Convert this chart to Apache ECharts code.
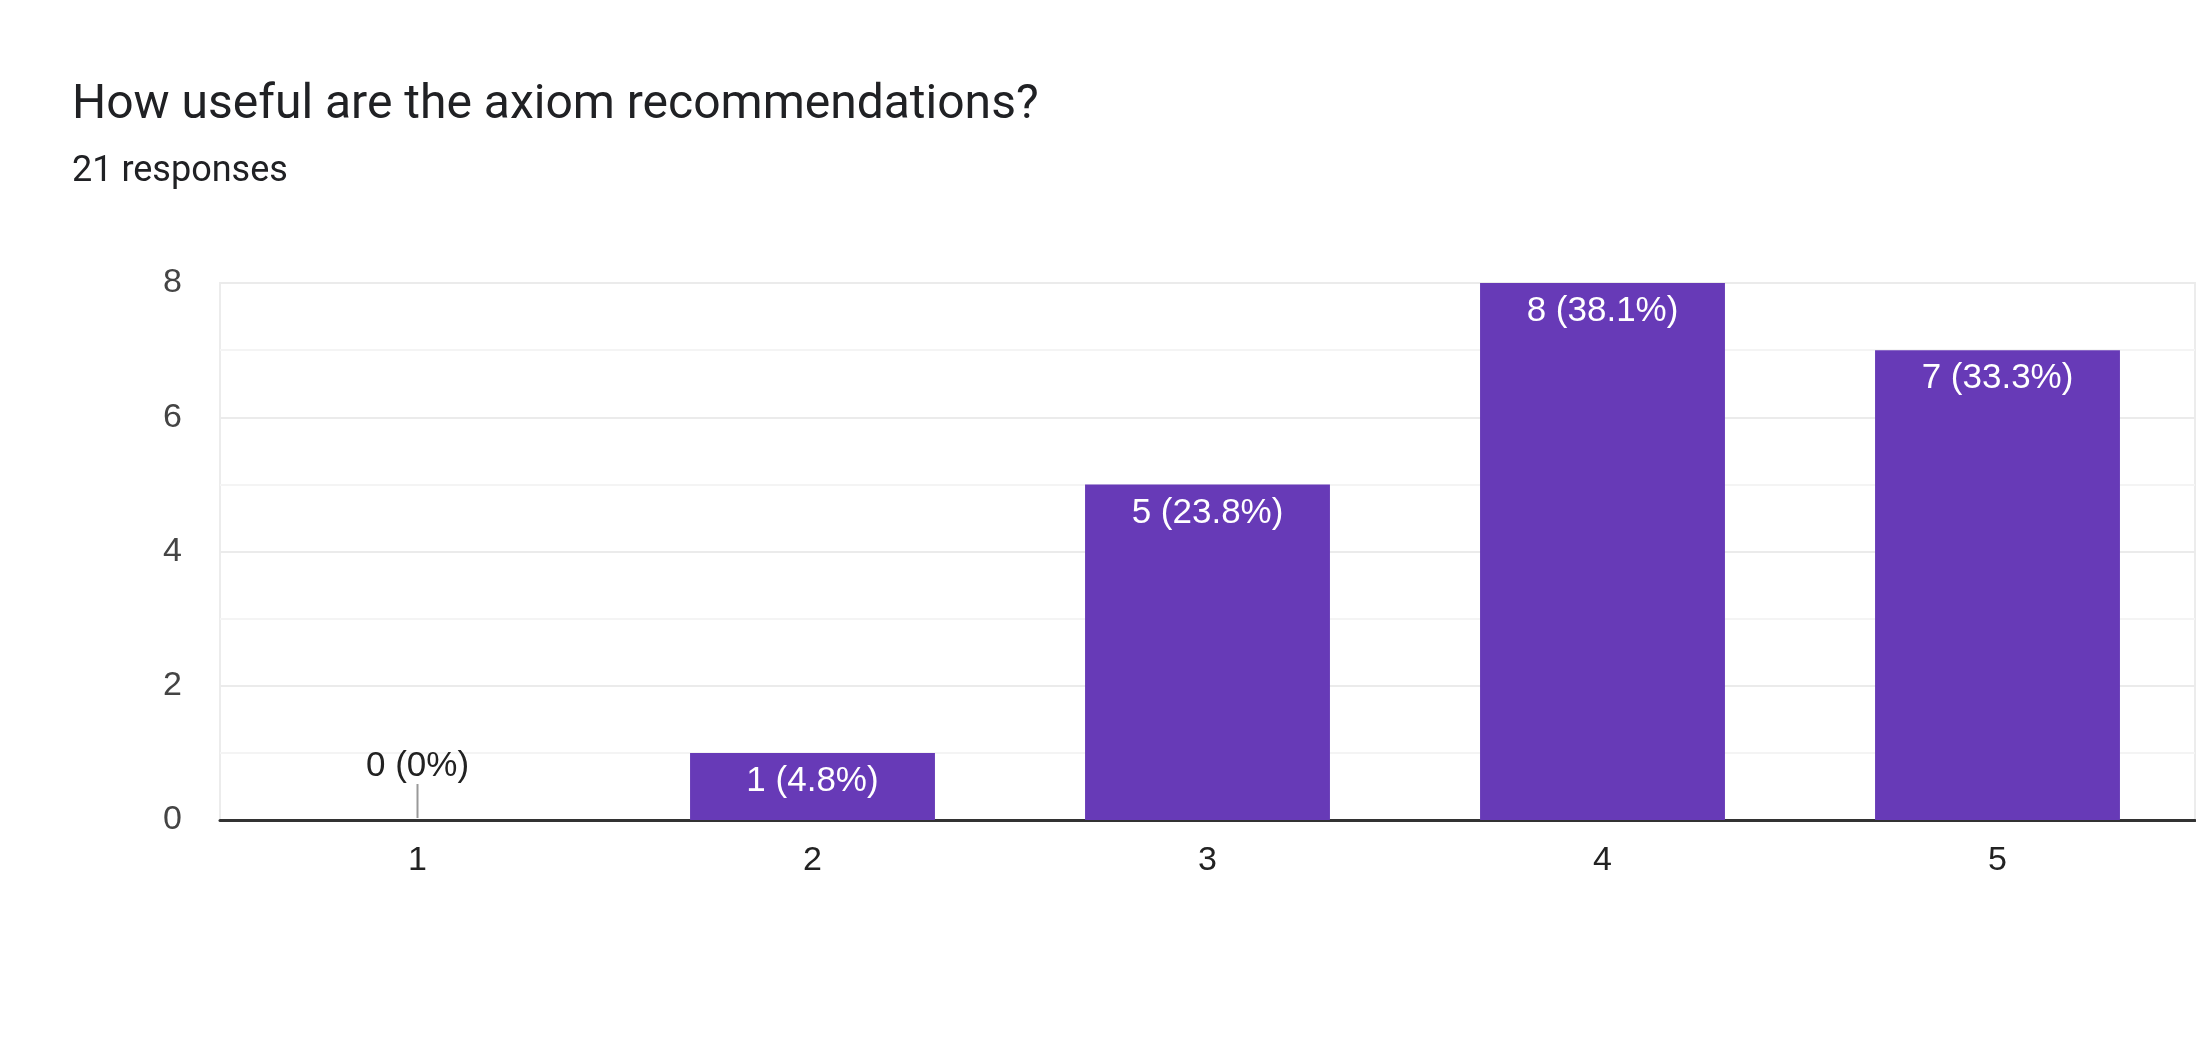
<!DOCTYPE html>
<html>
<head>
<meta charset="utf-8">
<script src="https://cdn.jsdelivr.net/npm/echarts@6/dist/echarts.min.js"></script>
<style>
html,body{margin:0;padding:0;background:#fff;}
#chart{width:2196px;height:1044px;}
</style>
</head>
<body>
<div id="chart"></div>
<script>
const titleText = 'How useful are the axiom recommendations?';
const subtitleText = '21 responses';
const categories = ['1', '2', '3', '4', '5'];
const counts = [0, 1, 5, 8, 7];
const totalResponses = 21;

function pctLabel(v) {
  if (v === 0) return v + ' (0%)';
  return v + ' (' + (v / totalResponses * 100).toFixed(1) + '%)';
}

const chart = echarts.init(document.getElementById('chart'), null, {renderer: 'canvas'});
const labelFont = '"Liberation Sans", Arial, sans-serif';
const axisSize = 34;
const dataSize = 35;

chart.setOption({
  backgroundColor: '#ffffff',
  animation: false,
  title: [
    {
      text: titleText, left: 72, top: 82, padding: 0,
      textStyle: {fontFamily: 'Roboto, sans-serif', fontSize: 48, fontWeight: 'normal', color: '#202124', lineHeight: 48}
    },
    {
      text: subtitleText, left: 72, top: 154, padding: 0,
      textStyle: {fontFamily: 'Roboto, sans-serif', fontSize: 36, fontWeight: 'normal', color: '#202124', lineHeight: 36}
    }
  ],
  grid: {
    left: 220, right: 1, top: 283, bottom: 224,
    show: true, borderColor: '#ececec', borderWidth: 2, backgroundColor: 'transparent'
  },
  xAxis: {
    type: 'category',
    data: categories,
    axisLine: {show: true, lineStyle: {color: '#333333', width: 3}},
    axisTick: {show: false},
    axisLabel: {color: '#222222', fontSize: axisSize, fontFamily: labelFont, margin: 24},
    splitLine: {show: false}
  },
  yAxis: {
    type: 'value',
    min: 0, max: 8, interval: 2,
    axisLine: {show: false},
    axisTick: {show: false},
    axisLabel: {color: '#444444', fontSize: axisSize, fontFamily: labelFont, margin: 38},
    splitLine: {show: true, lineStyle: {color: '#ebebeb', width: 2}},
    minorTick: {show: false, splitNumber: 2},
    minorSplitLine: {show: true, lineStyle: {color: '#f4f4f4', width: 2}}
  },
  series: [
    {
      type: 'bar',
      data: counts,
      barCategoryGap: '38%',
      itemStyle: {color: '#673ab7'},
      label: {
        show: true,
        position: 'insideTop',
        distance: 11,
        color: '#ffffff',
        fontSize: dataSize,
        fontFamily: labelFont,
        formatter: p => p.value === 0 ? '' : pctLabel(p.value)
      },
      z: 2
    },
    {
      type: 'custom',
      data: counts.map((v, i) => [i, v]),
      z: 5,
      renderItem: function (params, api) {
        const v = api.value(1);
        if (v !== 0) return null;
        const p = api.coord([api.value(0), 0]);
        return {
          type: 'group',
          children: [
            {type: 'line', shape: {x1: p[0], y1: p[1] - 2, x2: p[0], y2: p[1] - 36},
             style: {stroke: '#999999', lineWidth: 2}},
            {type: 'text', style: {text: pctLabel(v), x: p[0], y: p[1] - 36,
             textAlign: 'center', textVerticalAlign: 'bottom', fill: '#222222',
             font: dataSize + 'px ' + labelFont}}
          ]
        };
      }
    }
  ]
});
</script>
</body>
</html>
